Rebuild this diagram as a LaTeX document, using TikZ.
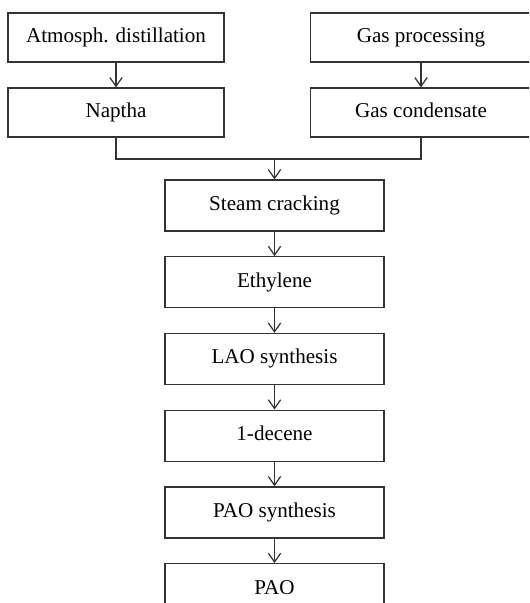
\documentclass[tikz,border=0pt]{standalone}
\usepackage{fontspec}
\setmainfont{Liberation Serif}
\usetikzlibrary{arrows.meta,positioning}

\begin{document}
\begin{tikzpicture}[->,>={Straight Barb[length=5pt,width=7pt]},node distance=0.49cm,line width=0.7pt,color=black!80,
  stage/.style={draw,rectangle,minimum width=4.38cm,minimum height=1.02cm,text height=1.6ex,text depth=.4ex,text=black,font=\fontsize{12}{14}\selectfont},
  feed/.style={stage,minimum width=4.32cm,minimum height=0.98cm}]
\useasboundingbox (0,0) rectangle (10.58,-12.06);
\clip (0,0) rectangle (10.58,-12.06);

\node[feed] (atm) at (2.32,-0.75) {Atmosph. distillation};
\node[feed,minimum width=4.42cm] (gasproc) at (8.42,-0.75) {Gas processing};
\node[feed] (naptha) at (2.32,-2.25) {Naptha};
\node[feed,minimum width=4.42cm] (gascond) at (8.42,-2.25) {Gas condensate};
\node[stage] (steam) at (5.49,-4.11) {Steam cracking};
\node[stage] (ethylene) [below=of steam] {Ethylene};
\node[stage] (lao) [below=of ethylene] {LAO synthesis};
\node[stage] (decene) [below=of lao] {1-decene};
\node[stage] (paosyn) [below=of decene] {PAO synthesis};
\node[stage] (pao) [below=of paosyn] {PAO};
\coordinate (merge) at (steam.north |- 0,-3.18);

\path (atm) edge (naptha);
\path (gasproc) edge (gascond);
\draw[-] (naptha) |- (merge);
\draw[-] (gascond) |- (merge);
\path (merge) edge (steam);
\path (steam) edge (ethylene);
\path (ethylene) edge (lao);
\path (lao) edge (decene);
\path (decene) edge (paosyn);
\path (paosyn) edge (pao);

\end{tikzpicture}
\end{document}
